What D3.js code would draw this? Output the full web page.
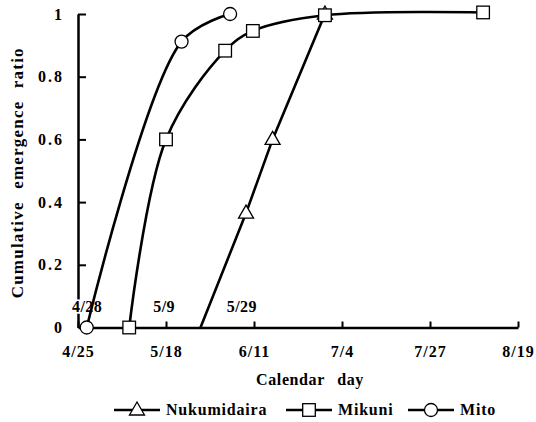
<!doctype html>
<html>
<head>
<meta charset="utf-8"/>
<title>Cumulative emergence ratio</title>
<script src="https://d3js.org/d3.v7.min.js"></script>
<style>
body{margin:0;background:#fff;}
text{font-family:"Liberation Serif","Times New Roman",serif;font-weight:bold;fill:#000;}
</style>
</head>
<body>
<script>
// days are day-of-year (4/25 = 115, 8/19 = 231)
var xTickLabels = ["4/25","5/18","6/11","7/4","7/27","8/19"];
var yTicks = [0,0.2,0.4,0.6,0.8,1];
var yTickLabels = ["0","0.2","0.4","0.6","0.8","1"];

var nukuDays   = [147.3,159.3,166.3,180.1];
var nukuVals   = [0,0.365,0.6,1.0];
var mikuniDays = [128.5,138.2,153.8,161.1,180.1,221.8];
var mikuniVals = [0,0.6,0.883,0.946,0.996,1.005];
var mitoDays   = [117.3,142.3,155.1];
var mitoVals   = [0,0.912,1.0];

// first-emergence notes
var noteLabels = ["4/28","5/9","5/29"];
var noteDays   = [117.4,137.7,158.2];

var W = 536, H = 422;
var mLeft = 78, mRight = 518, mTop = 14, mBottom = 327.5;

var svg = d3.select("body").append("svg")
  .attr("width", W).attr("height", H);

var x = d3.scaleLinear().domain([115,231]).range([mLeft,mRight]);
var y = d3.scaleLinear().domain([0,1]).range([mBottom,mTop]);

var xTickVals = d3.range(xTickLabels.length).map(function(i){
  return 115 + i*(231-115)/(xTickLabels.length-1);
});

// axes
var xAxis = d3.axisBottom(x).tickValues(xTickVals)
  .tickFormat(function(d,i){ return xTickLabels[i]; })
  .tickSizeInner(-6).tickSizeOuter(0).tickPadding(18);
var gx = svg.append("g").attr("transform","translate(0,"+mBottom+")").call(xAxis);
gx.select(".domain").attr("stroke","#000").attr("stroke-width",2.5);
gx.selectAll(".tick line").attr("stroke","#000").attr("stroke-width",2);
gx.selectAll(".tick text").attr("font-size",16).attr("letter-spacing","1px")
  .attr("font-family","Liberation Serif").attr("font-weight","bold");

var yAxis = d3.axisLeft(y).tickValues(yTicks)
  .tickFormat(function(d,i){ return yTickLabels[i]; })
  .tickSizeInner(-8).tickSizeOuter(0).tickPadding(14);
var gy = svg.append("g").attr("transform","translate("+mLeft+",0)").call(yAxis);
gy.select(".domain").attr("stroke","#000").attr("stroke-width",2.5);
gy.selectAll(".tick line").attr("stroke","#000").attr("stroke-width",2);
gy.selectAll(".tick").filter(function(d){ return d===0; }).select("line").remove();
gy.selectAll(".tick text").attr("font-size",16).attr("letter-spacing","2px")
  .attr("font-family","Liberation Serif").attr("font-weight","bold");

// notes
svg.selectAll("text.note").data(noteLabels).enter().append("text")
  .attr("class","note")
  .attr("x", function(d,i){ return x(noteDays[i]); })
  .attr("y", y(0.05))
  .attr("text-anchor","middle")
  .attr("font-size",16)
  .attr("letter-spacing","0.5px")
  .attr("stroke","#fff").attr("stroke-width",3).attr("paint-order","stroke")
  .text(function(d){ return d; });

// series
var series = [
  {name:"Nukumidaira", days:nukuDays, vals:nukuVals, sym:"tri", curve:d3.curveLinear},
  {name:"Mikuni", days:mikuniDays, vals:mikuniVals, sym:"sq", curve:d3.curveCatmullRom},
  {name:"Mito", days:mitoDays, vals:mitoVals, sym:"circ", curve:d3.curveCatmullRom}
];

function drawSym(g, sym, cx, cy){
  if (sym=="circ"){
    g.append("circle").attr("cx",cx).attr("cy",cy).attr("r",6.5)
      .attr("fill","#fff").attr("stroke","#000").attr("stroke-width",1.3);
  } else if (sym=="sq"){
    g.append("rect").attr("x",cx-6.3).attr("y",cy-6.3).attr("width",12.6).attr("height",12.6)
      .attr("fill","#fff").attr("stroke","#000").attr("stroke-width",1.3);
  } else {
    g.append("path").attr("d","M"+cx+","+(cy-8)+"L"+(cx+7.5)+","+(cy+5)+"L"+(cx-7.5)+","+(cy+5)+"Z")
      .attr("fill","#fff").attr("stroke","#000").attr("stroke-width",1.3);
  }
}

series.forEach(function(s){
  var pts = s.days.map(function(d,i){ return [d, s.vals[i]]; });
  var line = d3.line().x(function(p){ return x(p[0]); }).y(function(p){ return y(p[1]); }).curve(s.curve);
  svg.append("path").attr("d", line(pts))
    .attr("fill","none").attr("stroke","#000").attr("stroke-width",2.6);
});
series.forEach(function(s){
  var g = svg.append("g");
  s.days.forEach(function(d,i){
    if (s.sym=="tri" && i==0) return; // no marker visible at onset
    drawSym(g, s.sym, x(d), y(s.vals[i]));
  });
});

// axis titles
svg.append("text")
  .attr("transform","translate(23,"+((mTop+mBottom)/2+2)+") rotate(-90)")
  .attr("text-anchor","middle").attr("font-size",17)
  .attr("letter-spacing","1.2px").attr("word-spacing","7px")
  .text("Cumulative emergence ratio");

svg.append("text")
  .attr("x", 310).attr("y", 385)
  .attr("text-anchor","middle").attr("font-size",16)
  .attr("letter-spacing","0.6px").attr("word-spacing","8px")
  .text("Calendar day");

// legend
var legX = [137, 309, 431];
var lg = svg.append("g");
series.forEach(function(s,i){
  var cx = legX[i], cy = 410;
  lg.append("line").attr("x1",cx-23).attr("x2",cx+23).attr("y1",cy).attr("y2",cy)
    .attr("stroke","#000").attr("stroke-width",2.4);
  drawSym(lg, s.sym, cx, cy);
  lg.append("text").attr("x",cx+29).attr("y",cy+5)
    .attr("font-size",16).attr("letter-spacing","0.8px")
    .text(s.name);
});
</script>
</body>
</html>
